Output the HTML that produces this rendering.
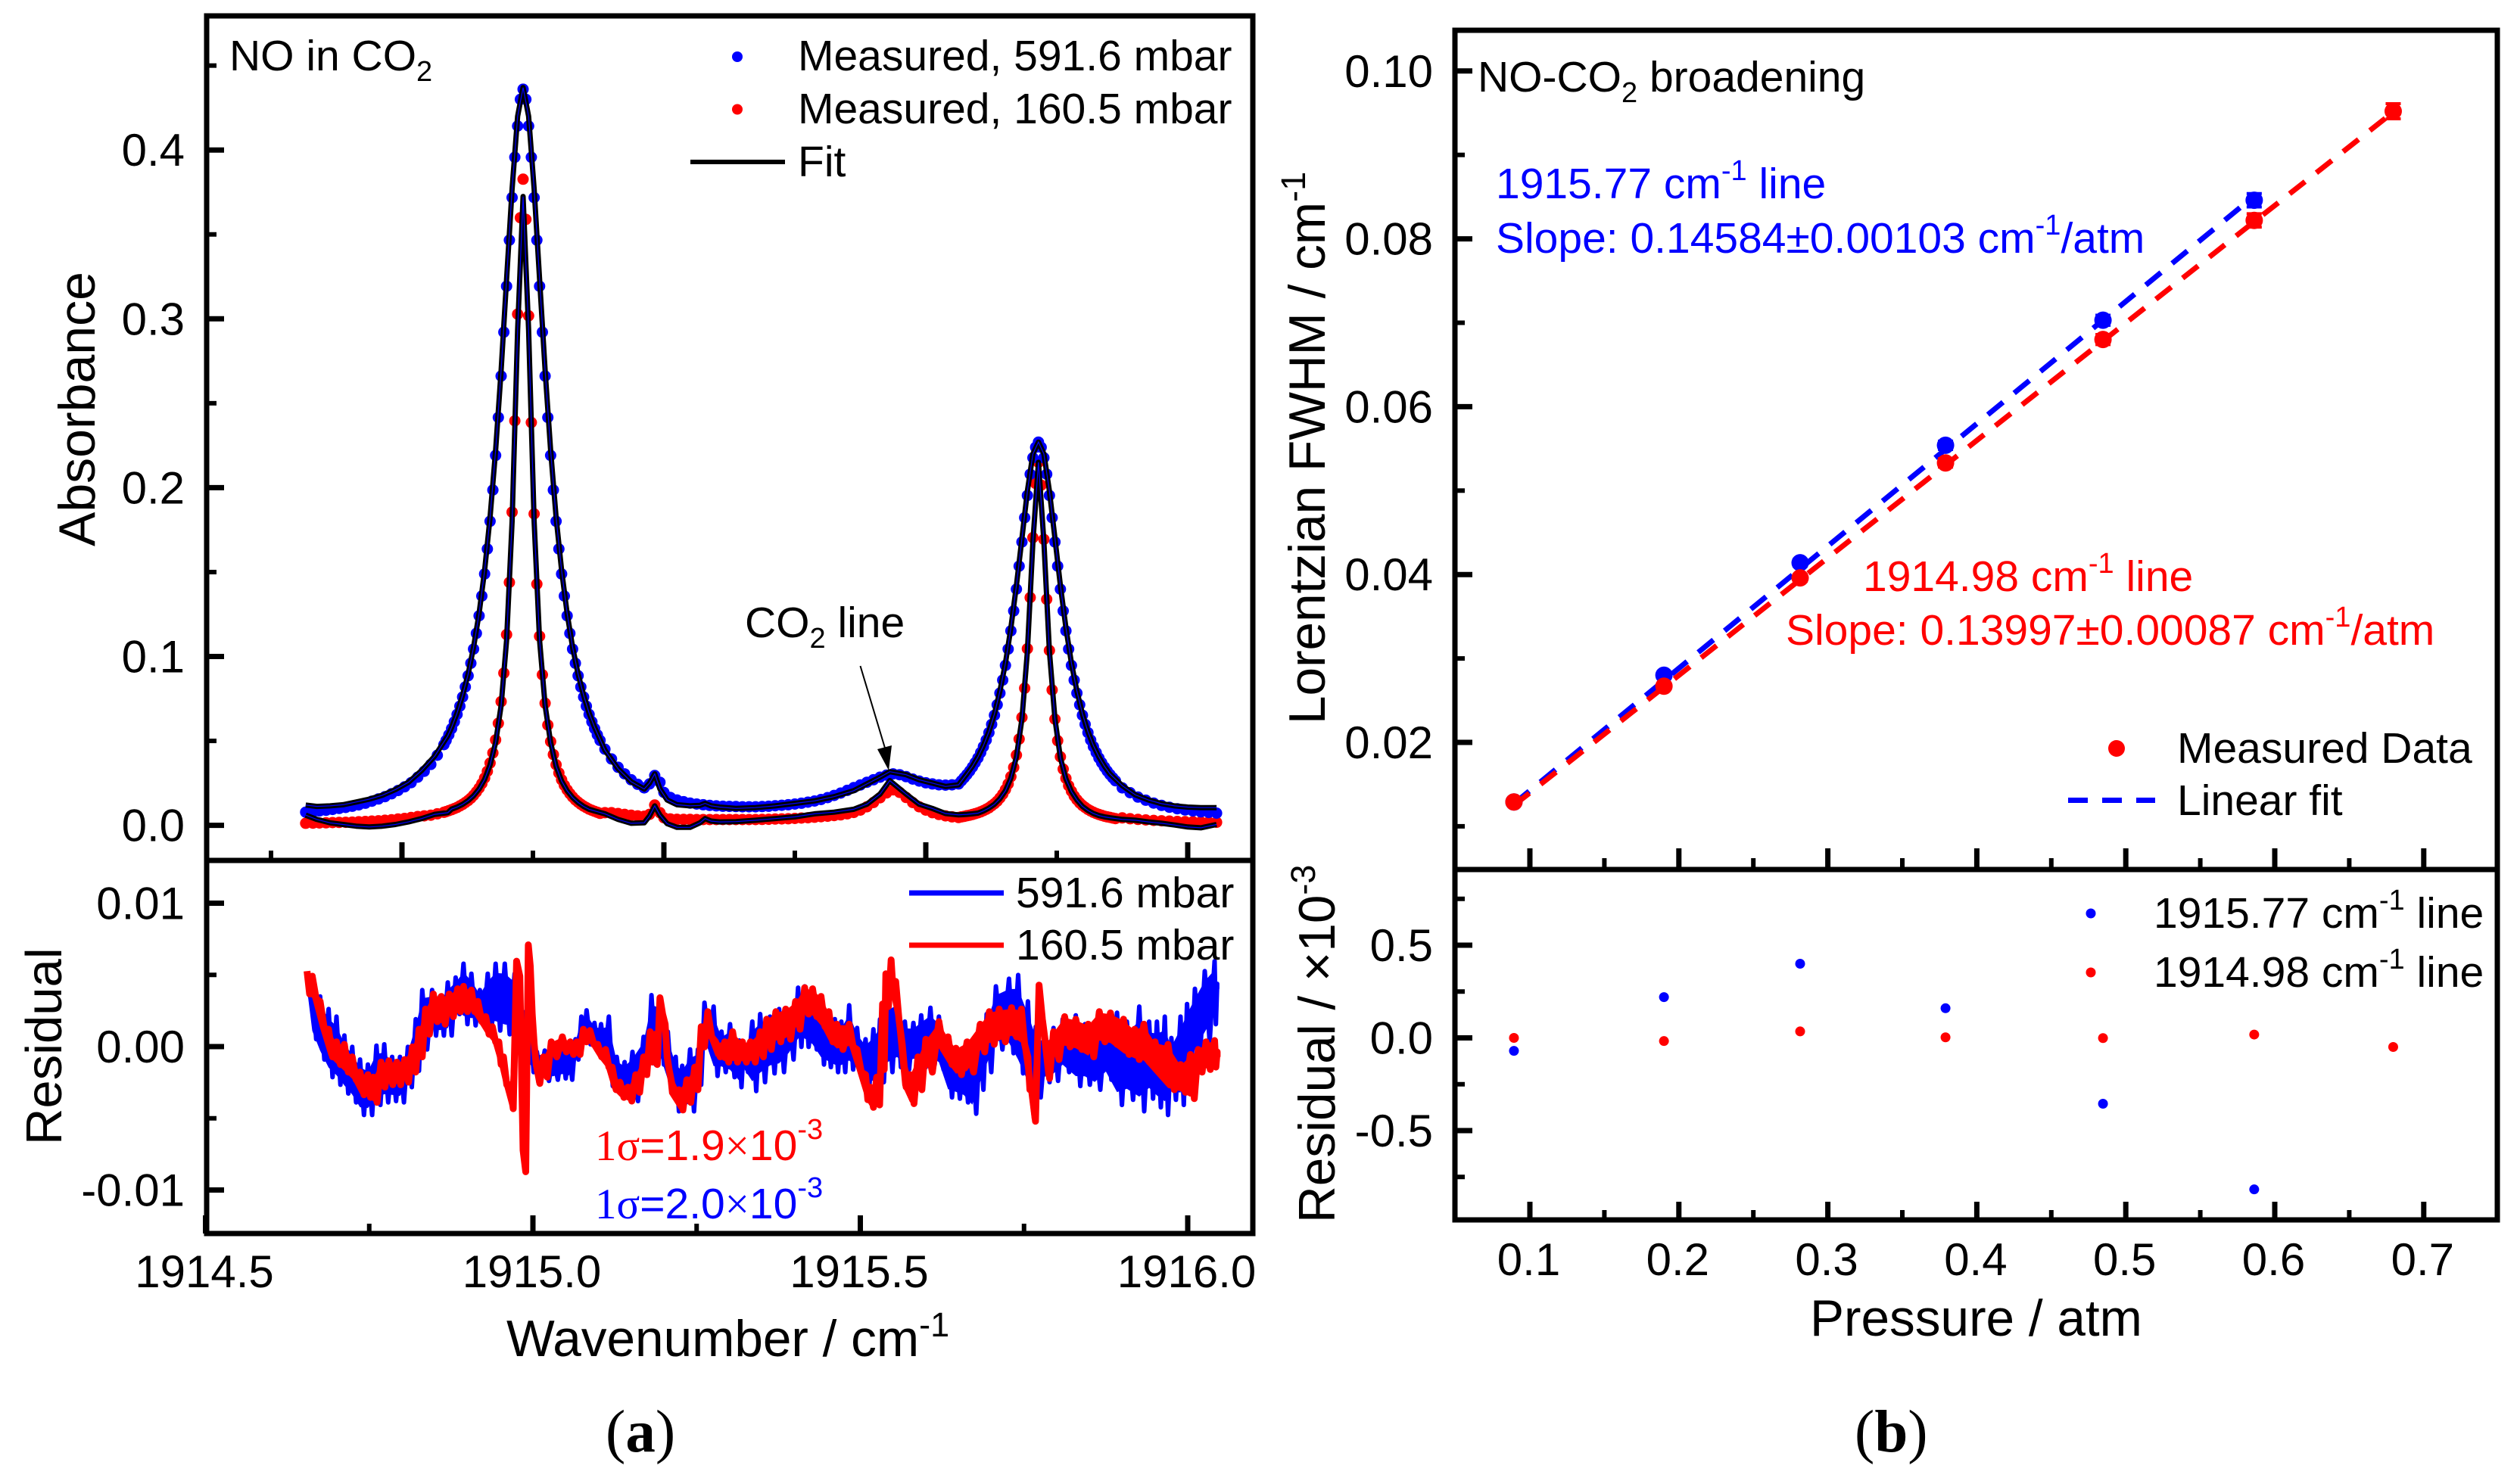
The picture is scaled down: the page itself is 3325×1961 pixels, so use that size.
<!DOCTYPE html>
<html lang="en">
<head>
<meta charset="utf-8">
<title>NO in CO2 absorbance and Lorentzian broadening</title>
<style>
html,body{margin:0;padding:0;background:#fff;}
svg{display:block;}
text{font-family:"Liberation Sans",Arial,sans-serif;fill:#000;}
.serif{font-family:"Liberation Serif","Times New Roman",serif;}
</style>
</head>
<body>
<svg id="figure" xmlns="http://www.w3.org/2000/svg" width="3325" height="1961" viewBox="0 0 3325 1961">
  <rect x="0" y="0" width="3325" height="1961" fill="#fff"/>

  <g id="a-spectrum"></g>
  <g id="a-residual"></g>
  <g id="b-fwhm"></g>
  <g id="b-residual"></g>

  <g id="annotations">
    <text x="303" y="93" font-size="57">NO in CO<tspan font-size="38" dy="14">2</tspan></text>
    <circle cx="974" cy="75" r="7" fill="#0000ff"/>
    <text x="1054" y="93" font-size="57">Measured, 591.6 mbar</text>
    <circle cx="974" cy="144.5" r="7" fill="#ff0000"/>
    <text x="1054" y="163" font-size="57">Measured, 160.5 mbar</text>
    <line x1="912" y1="214" x2="1037" y2="214" stroke="#000" stroke-width="6"/>
    <text x="1054" y="233" font-size="57">Fit</text>
    <text x="984" y="842" font-size="57">CO<tspan font-size="38" dy="14">2</tspan><tspan dy="-14"> line</tspan></text>
    <line x1="1136.5" y1="880" x2="1171" y2="995" stroke="#000" stroke-width="2"/>
    <polygon points="1174,1018 1159,990 1178,985" fill="#000"/>

    <line x1="1201" y1="1180" x2="1326" y2="1180" stroke="#0000ff" stroke-width="7"/>
    <text x="1342" y="1199" font-size="57">591.6 mbar</text>
    <line x1="1201" y1="1249" x2="1326" y2="1249" stroke="#ff0000" stroke-width="7"/>
    <text x="1342" y="1268" font-size="57">160.5 mbar</text>
    <text x="786" y="1533" font-size="57" style="fill:#ff0000"><tspan class="serif" style="fill:#ff0000">1σ</tspan>=1.9<tspan class="serif" style="fill:#ff0000">×</tspan>10<tspan font-size="38" dy="-28" style="fill:#ff0000">-3</tspan></text>
    <text x="786" y="1610" font-size="57" style="fill:#0000ff"><tspan class="serif" style="fill:#0000ff">1σ</tspan>=2.0<tspan class="serif" style="fill:#0000ff">×</tspan>10<tspan font-size="38" dy="-28" style="fill:#0000ff">-3</tspan></text>

    <text transform="translate(125 722) rotate(-90)" font-size="68">Absorbance</text>
    <text transform="translate(81 1513) rotate(-90)" font-size="67">Residual</text>
    <text x="669" y="1792" font-size="67.5">Wavenumber / cm<tspan font-size="45" dy="-26">-1</tspan></text>
    <text class="serif" x="800" y="1918" font-size="79">(<tspan font-weight="bold">a</tspan>)</text>

    <text x="1952" y="121" font-size="57">NO-CO<tspan font-size="38" dy="14">2</tspan><tspan dy="-14"> broadening</tspan></text>
    <text x="1976" y="262" font-size="57" style="fill:#0000ff">1915.77 cm<tspan font-size="38" dy="-24" style="fill:#0000ff">-1</tspan><tspan dy="24" style="fill:#0000ff"> line</tspan></text>
    <text x="1976" y="334" font-size="57" style="fill:#0000ff">Slope: 0.14584±0.00103 cm<tspan font-size="38" dy="-24" style="fill:#0000ff">-1</tspan><tspan dy="24" style="fill:#0000ff">/atm</tspan></text>
    <text x="2461" y="781" font-size="57" style="fill:#ff0000">1914.98 cm<tspan font-size="38" dy="-24" style="fill:#ff0000">-1</tspan><tspan dy="24" style="fill:#ff0000"> line</tspan></text>
    <text x="2359" y="852" font-size="57" style="fill:#ff0000">Slope: 0.13997±0.00087 cm<tspan font-size="38" dy="-24" style="fill:#ff0000">-1</tspan><tspan dy="24" style="fill:#ff0000">/atm</tspan></text>
    <circle cx="2796" cy="989" r="11" fill="#ff0000"/>
    <text x="2876" y="1008" font-size="57">Measured Data</text>
    <line x1="2732" y1="1057.5" x2="2847" y2="1057.5" stroke="#0000ff" stroke-width="7" stroke-dasharray="26 19"/>
    <text x="2876" y="1077" font-size="57">Linear fit</text>
    <circle cx="2762" cy="1207" r="6.5" fill="#0000ff"/>
    <text x="2845" y="1226" font-size="57">1915.77 cm<tspan font-size="38" dy="-24">-1</tspan><tspan dy="24"> line</tspan></text>
    <circle cx="2762" cy="1285" r="6.5" fill="#ff0000"/>
    <text x="2845" y="1304" font-size="57">1914.98 cm<tspan font-size="38" dy="-24">-1</tspan><tspan dy="24"> line</tspan></text>

    <text transform="translate(1750 957) rotate(-90)" font-size="67.5">Lorentzian FWHM / cm<tspan font-size="45" dy="-26">-1</tspan></text>
    <text transform="translate(1763 1616) rotate(-90)" font-size="67.5">Residual / ×10<tspan font-size="45" dy="-26">-3</tspan></text>
    <text x="2391" y="1765" font-size="67.5">Pressure / atm</text>
    <text class="serif" x="2450" y="1918" font-size="79">(<tspan font-weight="bold">b</tspan>)</text>
  </g>
</svg>

<script>
/* ---------- Panel (a) data: wavenumbers are offsets from 1915 cm-1 ---------- */
const measuredWavenumber = [-.347,-.336,-.326,-.316,-.306,-.296,-.286,-.276,-.266,-.256,-.246,-.236,-.226,-.216,-.206,-.196,-.186,-.176,-.166,-.156,-.146,-.136,
-.1326,-.1284,-.1242,-.12,-.1158,-.1116,-.1074,-.1032,-.099,-.0948,-.0906,-.0864,-.0822,-.078,-.0738,-.0696,-.0654,-.0612,-.057,-.0528,-.0486,-.0444,-.0402,-.036,-.0318,-.0276,-.0234,-.0192,-.015,-.0108,-.0066,-.0024,.0018,.006,.0102,.0144,.0186,.0228,.027,.0312,.0354,.0396,.0438,.048,.0522,.0564,.0606,.0648,.069,.0732,.0774,.0816,.0858,.09,.0942,.0984,.1026,
.11,.12,.13,.14,.15,.16,.17,.178,.186,.194,.20,.21,.22,.23,.24,.25,.26,.27,.28,.29,.30,.31,.32,.33,.34,.35,.36,.37,.38,.39,.40,.41,.42,.43,.44,.45,.46,.47,.48,.49,.50,.51,.52,.53,.54,.55,.56,.57,.58,.59,.60,.61,.62,.63,.64,.65,
.6544,.6586,.6628,.667,.6712,.6754,.6796,.6838,.688,.6922,.6964,.7006,.7048,.709,.7132,.7174,.7216,.7258,.73,.7342,.7384,.7426,.7468,.751,.7552,.7594,.7636,.7678,.772,.7762,.7804,.7846,.7888,.793,.7972,.8014,.8056,.8098,.814,.8182,.8224,.8266,.8308,.835,.8392,.8434,.8476,.8518,.856,.8602,.8644,.8686,.8728,.877,.8812,.8854,.8896,
.90,.912,.924,.936,.948,.96,.972,.984,.996,1.008,1.02,1.032,1.044];

const measured591 = [.0078,.0080,.0085,.0089,.0094,.0100,.0106,.0113,.0121,.0131,.0143,.0156,.0170,.0187,.0206,.0228,.0253,.0285,.0320,.0361,.0415,.0478,
.0503,.0536,.0573,.0613,.0657,.0706,.0760,.0820,.0886,.0960,.1044,.1137,.1241,.1358,.1489,.1637,.1801,.1986,.2191,.2416,.2661,.2921,.3193,.3466,.3718,.3957,.4142,.4300,.4360,
.4300,.4142,.3957,.3718,.3466,.3193,.2921,.2661,.2416,.2191,.1986,.1801,.1637,.1489,.1358,.1241,.1137,.1044,.0960,.0886,.0820,.0760,.0706,.0657,.0613,.0573,.0536,.0503,
.0451,.0393,.0344,.0305,.0270,.0243,.0222,.0245,.0295,.0255,.0195,.0165,.0150,.0140,.0132,.0126,.0122,.0118,.0115,.0113,.0112,.0111,.0110,.0110,.0110,.0111,.0113,.0116,.0119,.0122,.0126,.0131,.0137,.0144,.0153,.0164,.0177,.0191,.0207,.0223,.0239,.0255,.0270,.0285,.0297,.0305,.0300,.0288,.0274,.0262,.0252,.0245,.0240,.0238,.0240,.0245,
.0264,.0282,.0301,.0322,.0345,.0371,.0399,.0431,.0466,.0505,.0549,.0598,.0652,.0714,.0783,.0860,.0947,.1044,.1152,.1270,.1399,.1535,.1678,.1822,.1954,.2080,.2177,.2239,.2270,
.2239,.2177,.2080,.1954,.1822,.1678,.1535,.1399,.1270,.1152,.1044,.0947,.0860,.0783,.0714,.0652,.0598,.0549,.0505,.0466,.0431,.0399,.0371,.0345,.0322,.0301,.0282,.0264,
.0222,.0193,.0167,.0149,.0132,.0118,.0107,.0098,.0091,.0085,.0080,.0076,.0072];

const measured160 = [.0012,.0013,.0014,.0015,.0016,.0017,.0018,.0019,.0021,.0023,.0025,.0027,.0030,.0033,.0037,.0041,.0046,.0052,.0056,.0060,.0068,.0077,
.0081,.0087,.0093,.0099,.0106,.0115,.0124,.0135,.0147,.0161,.0178,.0198,.0220,.0247,.0280,.0320,.0369,.0429,.0506,.0604,.0733,.0902,.1130,.1439,.1855,.2396,.3028,.3599,.3827,
.3589,.3018,.2386,.1845,.1429,.1120,.0892,.0723,.0594,.0496,.0419,.0359,.0310,.0270,.0237,.0210,.0188,.0168,.0151,.0137,.0125,.0114,.0105,.0096,.0089,.0083,.0077,.0071,
.0075,.0075,.0070,.0065,.0060,.0056,.0054,.0065,.0120,.0075,.0045,.0038,.0036,.0035,.0035,.0034,.0034,.0034,.0034,.0034,.0034,.0034,.0034,.0034,.0034,.0035,.0036,.0037,.0038,.0039,.0041,.0043,.0045,.0048,.0051,.0054,.0058,.0062,.0068,.0076,.0090,.0110,.0135,.0163,.0192,.0210,.0195,.0165,.0135,.0110,.0090,.0075,.0064,.0056,.0050,.0046,
.0050,.0053,.0057,.0060,.0064,.0069,.0074,.0080,.0087,.0095,.0104,.0116,.0128,.0143,.0162,.0184,.0212,.0245,.0288,.0343,.0416,.0511,.0639,.0812,.1046,.1349,.1704,.2025,.2150,
.2015,.1694,.1339,.1036,.0802,.0629,.0501,.0406,.0333,.0278,.0235,.0202,.0174,.0152,.0133,.0118,.0106,.0094,.0085,.0077,.0070,.0064,.0059,.0054,.0050,.0047,.0043,.0040,
.0044,.0039,.0035,.0032,.0029,.0027,.0025,.0023,.0022,.0021,.0020,.0019,.0018];

const fitWavenumber = [-.347,-.33,-.31,-.29,-.27,-.25,-.23,-.21,-.19,-.17,-.15,-.13,
-.1242,-.1158,-.1074,-.099,-.0906,-.0822,-.0738,-.0654,-.057,-.0486,-.0402,-.0318,-.0234,-.015,-.0066,.0018,.0102,.0186,.027,.0354,.0438,.0522,.0606,.069,.0774,.0858,.0942,
.11,.13,.15,.17,.178,.186,.194,.205,.22,.24,.255,.263,.272,.285,.31,.34,.37,.40,.43,.46,.49,.51,.53,.545,.57,.59,.61,.63,.65,
.6628,.6712,.6796,.688,.6964,.7048,.7132,.7216,.73,.7384,.7468,.7552,.7636,.772,.7804,.7888,.7972,.8056,.814,.8224,.8308,.8392,.8476,.856,.8644,.8728,.8812,
.90,.92,.94,.96,.98,1.0,1.02,1.044];

const fit591 = [.0120,.0112,.0115,.0122,.0138,.0155,.0178,.0212,.0255,.0325,.0410,.0530,
.0580,.0665,.0770,.0895,.1055,.1255,.1510,.1825,.2220,.2695,.3235,.3770,.4200,.4370,.4200,.3770,.3235,.2695,.2220,.1825,.1510,.1255,.1055,.0895,.0770,.0665,.0580,
.0445,.0335,.0258,.0215,.0250,.0305,.0215,.0150,.0122,.0115,.0118,.0130,.0115,.0108,.0100,.0105,.0115,.0130,.0145,.0170,.0205,.0245,.0285,.0318,.0300,.0270,.0250,.0230,.0240,
.0305,.0350,.0405,.0472,.0555,.0660,.0795,.0960,.1170,.1420,.1700,.1980,.2200,.2270,.2200,.1980,.1700,.1420,.1170,.0960,.0795,.0660,.0555,.0472,.0405,.0350,.0305,
.0235,.0180,.0150,.0128,.0115,.0108,.0105,.0105];

const fit160 = [.0060,.0035,.0015,.0005,-.0005,-.0010,-.0005,.0005,.0020,.0040,.0065,.0075,
.0096,.0108,.0124,.0146,.0175,.0215,.0272,.0358,.0490,.0710,.1095,.1800,.2935,.3725,.2935,.1800,.1095,.0710,.0490,.0350,.0262,.0205,.0165,.0135,.0112,.0095,.0085,
.0068,.0035,.0012,.0015,.0055,.0115,.0060,.0010,-.0012,-.0012,.0015,.0040,.0025,.0020,.0022,.0030,.0040,.0050,.0068,.0078,.0095,.0125,.0185,.0265,.0185,.0125,.0100,.0070,.0062,
.0065,.0068,.0072,.0085,.0102,.0125,.0158,.0205,.0280,.0405,.0630,.1030,.1680,.2150,.1680,.1030,.0630,.0400,.0275,.0200,.0150,.0112,.0088,.0070,.0058,.0050,.0045,
.0035,.0030,.0020,.0012,.0002,-.0010,-.0015,.0005];

/* Residual envelopes, in units of 1e-3 absorbance */
const residual591Wavenumber = [-.344,-.337,-.325,-.312,-.300,-.288,-.276,-.264,-.252,-.239,-.227,-.215,-.203,-.191,-.179,-.169,-.154,-.142,-.130,-.118,-.106,-.094,-.081,-.069,-.057,-.043,-.028,-.016,-.004,.006,.018,.031,.045,.055,.065,.074,.082,.094,.104,.116,.128,.140,.152,.169,.181,.194,.206,.218,.228,.240,.252,.262,.276,.288,.301,.315,.322,.335,.347,.362,.376,.391,.405,.415,.427,.440,.449,.461,.471,.483,.495,.508,.520,.530,.542,.556,.568,.581,.593,.607,.620,.634,.646,.658,.671,.683,.693,.707,.727,.741,.756,.768,.783,.795,.809,.829,.843,.858,.875,.892,.907,.926,.941,.953,.965,.975,.989,.999,1.011,1.026,1.041,1.045];
const residual591High = [4.91,4.73,3.50,2.62,2.09,.77,-.02,-.90,-1.25,.07,.16,-.72,-.72,-.02,1.91,3.94,3.94,3.50,4.47,4.82,5.78,5.08,3.94,5.08,5.78,5.78,5.08,2.44,1.91,-.37,-.28,-.55,-.02,-.20,.51,2.09,2.53,1.65,1.56,2.09,-.72,-1.08,-.37,.68,3.59,3.32,1.04,-.72,-1.34,-.20,-.20,3.06,2.79,1.04,1.56,.42,.16,1.74,2.27,2.09,2.62,2.53,4.11,4.20,2.44,2.44,1.91,1.91,1.74,2.88,1.30,.51,1.21,1.91,3.24,3.59,1.74,1.65,2.18,2.70,2.09,.51,-.20,-.20,-.20,.86,2.27,4.20,4.73,4.99,3.15,1.39,.68,1.30,1.91,2.18,1.56,.86,1.74,2.36,1.74,2.79,1.74,1.74,2.09,.60,2.09,2.97,4.03,5.26,5.96,4.38];
const residual591Low = [3.50,.51,-.90,-2.13,-2.66,-3.27,-3.89,-4.77,-4.77,-4.07,-3.89,-3.80,-3.89,-2.83,-1.69,-.20,.77,.77,.77,2.27,1.56,1.48,1.74,1.21,1.12,.86,.86,-1.60,-1.78,-1.96,-2.39,-2.31,-2.22,-2.31,-.90,.68,.16,-.20,-.72,-2.75,-2.83,-3.36,-3.80,-1.96,-1.25,-1.25,-2.83,-4.51,-3.89,-4.51,-2.66,.16,-2.04,-1.78,-2.13,-2.83,-1.78,-3.10,-2.48,-1.87,-1.78,-.90,-.02,-.02,-.20,-1.25,-1.43,-1.78,-1.78,-1.60,-1.96,-2.66,-3.01,-2.48,-1.78,-1.43,-1.60,-1.25,-1.43,-1.25,-1.60,-3.54,-3.63,-3.89,-4.68,-3.01,-1.78,-.20,-.46,-1.87,-3.36,-3.54,-2.48,-2.39,-1.78,-2.75,-2.66,-3.01,-2.31,-4.07,-3.71,-4.51,-3.63,-4.24,-4.77,-3.71,-4.07,-2.13,-.90,.33,1.56,4.03];

const residual160Wavenumber = [-.345,-.337,-.325,-.312,-.300,-.288,-.276,-.264,-.252,-.244,-.232,-.220,-.208,-.196,-.184,-.174,-.164,-.152,-.140,-.128,-.115,-.106,-.094,-.084,-.072,-.062,-.052,-.045,-.035,-.025,-.015,-.007,-.001,.005,.016,.028,.045,.057,.067,.077,.087,.099,.111,.121,.133,.145,.157,.169,.179,.186,.194,.202,.208,.223,.235,.247,.257,.267,.279,.293,.305,.320,.332,.347,.357,.371,.386,.401,.415,.427,.440,.452,.464,.483,.495,.508,.515,.525,.534,.539,.547,.554,.564,.576,.588,.600,.620,.634,.646,.663,.683,.697,.712,.731,.746,.756,.762,.773,.783,.795,.812,.829,.848,.865,.882,.902,.919,.933,.950,.970,.989,1.004,1.016,1.028,1.041,1.045];
const residual160High = [5.26,4.91,3.15,1.21,.33,.16,-.72,-1.78,-1.96,-2.13,-1.08,-.99,-1.08,-.90,-.02,1.21,2.62,3.67,3.50,3.67,4.03,4.20,3.94,3.15,2.09,1.39,.33,-.72,-2.66,5.96,-7.23,7.10,2.27,-1.25,-.72,.33,.68,.33,.33,1.21,1.12,.16,-.20,-1.43,-2.48,-2.83,-1.96,-.72,1.04,.86,3.41,1.56,-1.60,-3.01,-2.31,-1.43,1.39,2.44,.33,.33,1.04,.33,.33,1.04,1.91,2.44,2.62,3.15,4.11,4.03,3.50,2.44,1.56,1.56,-.20,-1.96,-2.83,-2.13,2.97,5.08,6.05,4.55,.16,-1.96,-.72,.51,1.74,.68,-.11,.33,1.56,2.44,2.62,2.71,2.62,-.72,-3.01,4.29,.16,1.04,2.09,1.91,1.56,2.44,2.35,1.91,1.21,1.56,.33,.16,-1.25,-.55,-.20,.33,.42,-.37];
const residual160Low = [3.67,3.32,1.21,-.72,-1.25,-1.78,-2.31,-3.36,-3.54,-3.89,-2.83,-2.66,-2.66,-2.48,-1.78,-.72,.86,1.74,1.56,2.09,2.44,2.44,2.44,1.74,.86,.33,-1.25,-2.66,-4.33,4.91,-8.73,5.61,.16,-2.57,-2.13,-.72,-.37,-.55,-.55,.33,.16,-.72,-1.43,-3.01,-3.54,-3.80,-3.19,-1.96,-1.08,-1.25,2.27,-.72,-3.36,-4.42,-3.89,-3.01,-.02,.68,-.72,-1.08,-1.08,-1.08,-1.08,-.72,-.20,.33,.51,1.21,2.27,2.09,1.39,.33,-.20,-.02,-1.78,-3.71,-4.24,-4.07,-1.60,2.79,3.50,1.91,-2.83,-3.98,-3.01,-1.78,-.20,-1.25,-1.96,-1.78,-.37,.16,.33,.68,.16,-3.01,-5.21,1.91,-2.22,-.90,-.02,-.20,-.72,.33,.16,-.55,-.90,-1.08,-1.96,-3.01,-3.19,-3.63,-1.78,-1.60,-1.43,-.72];

/* Panel (a) tick values */
const absorbanceMajorTicks = [0, .1, .2, .3, .4];
const absorbanceTickLabels = ['0.0', '0.1', '0.2', '0.3', '0.4'];
const absorbanceMinorTicks = [.05, .15, .25, .35, .45];
const spectrumTopMajorTicks = [-.2, .2, .6, 1.0];
const spectrumTopMinorTicks = [-.4, 0, .4, .8];
const residualMajorTicks = [.01, 0, -.01];
const residualTickLabels = ['0.01', '0.00', '-0.01'];
const residualMinorTicks = [.005, -.005];
const wavenumberMajorTicks = [-.5, 0, .5, 1];
const wavenumberTickLabels = ['1914.5', '1915.0', '1915.5', '1916.0'];
const wavenumberMinorTicks = [-.25, .25, .75];

/* ---------- Panel (b) data ---------- */
const pressure = [.0893, .190, .2814, .379, .4847, .5862, .6795];
const fwhm1914 = [.0129, .0267, .0396, .0533, .0680, .0822, .0952];
const fwhm1915 = [.0129, .0280, .0414, .0554, .0703, .0846];
const error1914 = [.0003, .0003, .0004, .0005, .0006, .0008, .0009];
const error1915 = [.0003, .0003, .0004, .0005, .0006, .0008];
const fitLine1914 = [.0125, .0951];
const fitLine1915 = [.0127, .0851];
const residualB1914 = [0, -.017, .035, .003, -.001, .018, -.049];
const residualB1915 = [-.07, .22, .40, .16, -.355, -.817];
const pressureMajorTicks = [.1, .2, .3, .4, .5, .6, .7];
const pressureTickLabels = ['0.1', '0.2', '0.3', '0.4', '0.5', '0.6', '0.7'];
const pressureMinorTicks = [.15, .25, .35, .45, .55, .65];
const fwhmMajorTicks = [.02, .04, .06, .08, .10];
const fwhmTickLabels = ['0.02', '0.04', '0.06', '0.08', '0.10'];
const fwhmMinorTicks = [.01, .03, .05, .07, .09];
const resBMajorTicks = [.5, 0, -.5];
const resBTickLabels = ['0.5', '0.0', '-0.5'];
const resBMinorTicks = [.75, .25, -.25, -.75];

/* ---------- Axis functions ---------- */
const xNu = function (v) { return 704 + v * 865; };
const yAbs = function (v) { return 1090.6 - 2231 * v; };
const yRes = function (v) { return 1383 - 18950 * v; };
const yRes3 = function (v) { return 1383 - 18.95 * v; };
const xP = function (p) { return 2021 + (p - .1) * 1968; };
const yFwhm = function (v) { return 981 - (v - .02) * 11090; };
const yResB = function (v) { return 1371.5 - 245 * v; };

const NS = 'http://www.w3.org/2000/svg';
function make(parent, tag, attrs) {
  const e = document.createElementNS(NS, tag);
  for (const k in attrs) e.setAttribute(k, attrs[k]);
  parent.appendChild(e);
  return e;
}
function pathFrom(xs, ys) {
  let d = '';
  for (let i = 0; i < xs.length; i++) d += (i ? 'L' : 'M') + xs[i].toFixed(1) + ' ' + ys[i].toFixed(1);
  return d;
}

const FRAME_W = 7;
const MAJOR_W = 7;
const MINOR_W = 6;

function drawFrame(g, x0, y0, x1, y1) {
  const r = make(g, 'rect', { x: x0, y: y0, width: x1 - x0, height: y1 - y0, fill: 'none', stroke: '#000', 'stroke-width': FRAME_W });
  
  
}
function drawXTicks(g, vals, fx, yBase, len, w) {
  vals.forEach(function (v) {
    const t = make(g, 'line', { x1: fx(v), x2: fx(v), y1: yBase, y2: yBase - len, stroke: '#000', 'stroke-width': w });
    
    
  });
}
function drawYTicks(g, vals, fy, xBase, len, w) {
  vals.forEach(function (v) {
    const t = make(g, 'line', { x1: xBase, x2: xBase + len, y1: fy(v), y2: fy(v), stroke: '#000', 'stroke-width': w });
    
    
  });
}
function drawYLabels(g, vals, labels, fy, xRight) {
  vals.forEach(function (v, i) {
    const t = make(g, 'text', { x: xRight, y: fy(v) + 21, 'text-anchor': 'end', 'font-size': 60 });
    t.textContent = labels[i];
    
    
  });
}
function drawXLabels(g, vals, labels, fx, yBase) {
  vals.forEach(function (v, i) {
    const t = make(g, 'text', { x: fx(v) - 1.5, y: yBase, 'text-anchor': 'middle', 'font-size': 60 });
    t.textContent = labels[i];
    
    
  });
}

/* ---------- Panel (a), upper ---------- */
(function () {
  const g = document.getElementById('a-spectrum');
  const red = make(g, 'g', { fill: '#ff0000' });
  
  
  measuredWavenumber.forEach(function (v, i) {
    const c = make(red, 'circle', { cx: xNu(v).toFixed(1), cy: yAbs(measured160[i]).toFixed(1), r: 7.5 });
    
    
  });
  const blue = make(g, 'g', { fill: '#0000ff' });
  
  
  measuredWavenumber.forEach(function (v, i) {
    const c = make(blue, 'circle', { cx: xNu(v).toFixed(1), cy: yAbs(measured591[i]).toFixed(1), r: 7.5 });
    
    
  });
  const xs = fitWavenumber.map(xNu);
  [[fit160, 'fit-160-line'], [fit591, 'fit-591-line']].forEach(function (pair) {
    const d = pathFrom(xs, pair[0].map(yAbs));
    const l = make(g, 'path', { d: d, fill: 'none', stroke: '#000', 'stroke-width': 7, 'stroke-linejoin': 'round' });
    
    
    const core = make(g, 'path', { d: d, fill: 'none', stroke: '#0000ff', 'stroke-width': 1.2 });
    
    
  });
  drawFrame(g, 273, 21, 1655, 1137);
  drawXTicks(g, spectrumTopMajorTicks, xNu, 1137, 24, MAJOR_W);
  drawXTicks(g, spectrumTopMinorTicks, xNu, 1137, 13, MINOR_W);
  drawYTicks(g, absorbanceMajorTicks, yAbs, 273, 23, MAJOR_W);
  drawYTicks(g, absorbanceMinorTicks, yAbs, 273, 13, MINOR_W);
  drawYLabels(g, absorbanceMajorTicks, absorbanceTickLabels, yAbs, 244);
})();

/* ---------- Panel (a), lower ---------- */
function drawResidual(g, nu, hi, lo, color, strokeW, bandShare, name) {
  const xs = nu.map(xNu);
  let band = '';
  for (let i = 0; i < xs.length; i++) {
    const m = (hi[i] + lo[i]) / 2, h = (hi[i] - lo[i]) * bandShare;
    band += (i ? 'L' : 'M') + xs[i].toFixed(1) + ' ' + yRes3(m + h).toFixed(1);
  }
  for (let i = xs.length - 1; i >= 0; i--) {
    const m = (hi[i] + lo[i]) / 2, h = (hi[i] - lo[i]) * bandShare;
    band += 'L' + xs[i].toFixed(1) + ' ' + yRes3(m - h).toFixed(1);
  }
  const b = make(g, 'path', { d: band + 'Z', fill: color });
  
  
  let d = '';
  for (let i = 0; i < xs.length; i++) {
    const nx = i + 1 < xs.length ? xs[i + 1] : xs[i];
    d += (i ? 'L' : 'M') + xs[i].toFixed(1) + ' ' + yRes3(hi[i]).toFixed(1);
    d += 'L' + ((xs[i] + nx) / 2).toFixed(1) + ' ' + yRes3(lo[i]).toFixed(1);
  }
  const l = make(g, 'path', { d: d, fill: 'none', stroke: color, 'stroke-width': strokeW, 'stroke-linejoin': 'round' });
  
  
}
(function () {
  const g = document.getElementById('a-residual');
  drawResidual(g, residual591Wavenumber, residual591High, residual591Low, '#0000ff', 6, .36, 'residual-591');
  drawResidual(g, residual160Wavenumber, residual160High, residual160Low, '#ff0000', 9, .46, 'residual-160');
  drawFrame(g, 273, 1137, 1655, 1630);
  drawXTicks(g, wavenumberMajorTicks, xNu, 1630, 24, MAJOR_W);
  drawXTicks(g, wavenumberMinorTicks, xNu, 1630, 13, MINOR_W);
  drawYTicks(g, residualMajorTicks, yRes, 273, 23, MAJOR_W);
  drawYTicks(g, residualMinorTicks, yRes, 273, 13, MINOR_W);
  drawYLabels(g, residualMajorTicks, residualTickLabels, yRes, 244);
  drawXLabels(g, wavenumberMajorTicks, wavenumberTickLabels, xNu, 1701);
})();

/* ---------- Panel (b), upper ---------- */
(function () {
  const g = document.getElementById('b-fwhm');
  const blueLine = make(g, 'line', { x1: xP(pressure[0]), y1: yFwhm(fitLine1915[0]), x2: xP(pressure[5]), y2: yFwhm(fitLine1915[1]), stroke: '#0000ff', 'stroke-width': 7, 'stroke-dasharray': '26 19' });
  
  
  const redLine = make(g, 'line', { x1: xP(pressure[0]), y1: yFwhm(fitLine1914[0]), x2: xP(pressure[6]), y2: yFwhm(fitLine1914[1]), stroke: '#ff0000', 'stroke-width': 7, 'stroke-dasharray': '26 19' });
  
  
  function series(vals, errs, color, name) {
    vals.forEach(function (v, i) {
      const x = xP(pressure[i]);
      const top = yFwhm(v + errs[i]), bot = yFwhm(v - errs[i]);
      const e = make(g, 'path', { d: 'M' + (x - 10) + ' ' + top + 'H' + (x + 10) + 'M' + (x - 10) + ' ' + bot + 'H' + (x + 10) + 'M' + x + ' ' + top + 'V' + bot, stroke: color, 'stroke-width': 4, fill: 'none' });
      
      
      const c = make(g, 'circle', { cx: x, cy: yFwhm(v), r: 11.5, fill: color });
      
      
    });
  }
  series(fwhm1915, error1915, '#0000ff', 'fwhm-1915');
  series(fwhm1914, error1914, '#ff0000', 'fwhm-1914');
  drawFrame(g, 1922, 40, 3299, 1149);
  drawXTicks(g, pressureMajorTicks, xP, 1149, 28, MAJOR_W);
  drawXTicks(g, pressureMinorTicks, xP, 1149, 15, MINOR_W);
  drawYTicks(g, fwhmMajorTicks, yFwhm, 1922, 23, MAJOR_W);
  drawYTicks(g, fwhmMinorTicks, yFwhm, 1922, 13, MINOR_W);
  drawYLabels(g, fwhmMajorTicks, fwhmTickLabels, yFwhm, 1893);
})();

/* ---------- Panel (b), lower ---------- */
(function () {
  const g = document.getElementById('b-residual');
  function series(vals, color, name) {
    vals.forEach(function (v, i) {
      const c = make(g, 'circle', { cx: xP(pressure[i]), cy: yResB(v), r: 6.5, fill: color });
      
      
    });
  }
  series(residualB1915, '#0000ff', 'residual-1915');
  series(residualB1914, '#ff0000', 'residual-1914');
  drawFrame(g, 1922, 1149, 3299, 1612);
  drawXTicks(g, pressureMajorTicks, xP, 1612, 24, MAJOR_W);
  drawXTicks(g, pressureMinorTicks, xP, 1612, 13, MINOR_W);
  drawYTicks(g, resBMajorTicks, yResB, 1922, 23, MAJOR_W);
  drawYTicks(g, resBMinorTicks, yResB, 1922, 13, MINOR_W);
  drawYLabels(g, resBMajorTicks, resBTickLabels, yResB, 1893);
  drawXLabels(g, pressureMajorTicks, pressureTickLabels, xP, 1685);
})();
</script>
</body>
</html>
